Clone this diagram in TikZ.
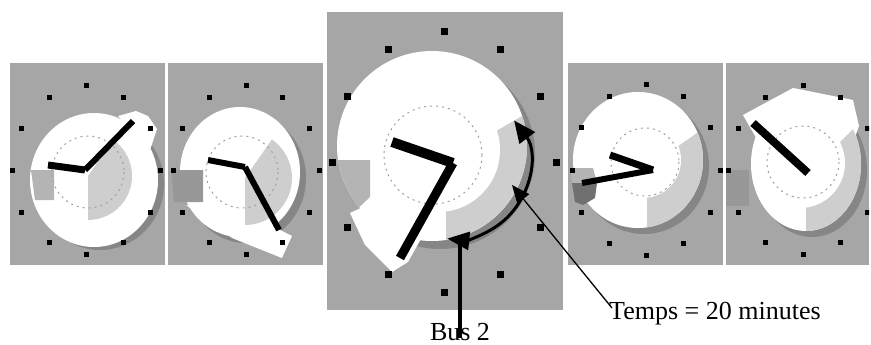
\documentclass[tikz,border=0pt]{standalone}
\usepackage{fontspec}
\setmainfont{Liberation Serif}
\usetikzlibrary{arrows.meta,calc}
\definecolor{panelgray}{RGB}{166,166,166}
\definecolor{shadowgray}{RGB}{134,134,134}
\definecolor{lightsec}{RGB}{206,206,206}
\definecolor{leftsec}{RGB}{180,180,180}
\definecolor{leftsecdark}{RGB}{152,152,152}
\definecolor{darksec}{RGB}{112,112,112}
\definecolor{rimgray}{RGB}{160,160,160}
\newcommand\clkdots[5]{%
  \foreach \a in {0,30,...,330}{%
    \fill[black] ({#1+#3*cos(\a)-#5},{#2+#4*sin(\a)-#5}) rectangle ({#1+#3*cos(\a)+#5},{#2+#4*sin(\a)+#5});}}
\begin{document}
\begin{tikzpicture}[x=1pt,y=-1pt,
  panel/.style={fill=panelgray},
  shadow/.style={fill=shadowgray},
  face/.style={fill=white},
  lsec/.style={fill=lightsec},
  inner/.style={draw=rimgray,line width=1pt,dash pattern=on 2pt off 4pt},
  hand/.style={draw=black,line width=#1},
  label/.style={font=\fontsize{26}{30}\selectfont,inner sep=0pt},
]
\useasboundingbox (0,0) rectangle (871,345);
\fill[white] (0,0) rectangle (871,345);

% ---------- clock 1 ----------
\fill[panel] (10,63) rectangle (165,265);
\fill[shadow] (100,184) ellipse [x radius=64, y radius=66];
\fill[face] (94,180) ellipse [x radius=64, y radius=67];
\fill[face] (118,116) -- (136,111) -- (148,116) -- (157,129) -- (150,150) -- cycle;
\fill[lsec] (88,176) -- ++(-55:44) arc [start angle=-55, end angle=90, radius=44] -- cycle;
\fill[leftsec] (31,170) -- (54,170) -- (54,200) -- (35,200) -- cycle;
\draw[inner] (88,172) circle [radius=36];
\clkdots{86}{170}{74}{84}{2.5}
\draw[hand=7pt] (85,170) -- (48,165);
\draw[hand=6pt] (85,170) -- (133,121);

% ---------- clock 2 ----------
\fill[panel] (168,63) rectangle (323,265);
\fill[shadow] (246,178) ellipse [x radius=60, y radius=65];
\fill[face] (240,172) ellipse [x radius=60, y radius=65];
\fill[face] (186,205) -- (232,238) -- (282,258) -- (292,236) -- (250,215) -- cycle;
\fill[lsec] (245,178) -- ++(-55:47) arc [start angle=-55, end angle=90, radius=47] -- cycle;
\fill[leftsecdark] (171,170) -- (203,170) -- (203,202) -- (174,202) -- cycle;
\draw[inner] (242,172) circle [radius=36];
\clkdots{246}{170}{73}{84}{2.5}
\draw[hand=6pt] (208,160) -- (245,167);
\draw[hand=6pt] (245,167) -- (279,230);

% ---------- clock 3 (large) ----------
\fill[panel] (327,12) rectangle (563,310);
\fill[shadow] (440,154) circle [radius=95];
\fill[face] (432,146) circle [radius=95];
\begin{scope}
  \clip (432,146) circle [radius=95];
  \fill[lsec] (446,160) -- ++(-30:130) arc [start angle=-30, end angle=90, radius=130] -- cycle;
  \fill[face] (438,150) circle [radius=62];
  \fill[leftsec] (330,160) -- (370,160) -- (370,197) -- (353,213) -- (330,213) -- cycle;
\end{scope}
\fill[face] (350,213) -- (378,200) -- (422,237) -- (408,262) -- (392,272) -- (365,245) -- cycle;
\draw[inner] (433,155) circle [radius=49];
\clkdots{444}{162}{112}{130}{3.5}
\draw[hand=10pt] (392,142) -- (453,163);
\draw[hand=9pt] (453,163) -- (400,258);

% ---------- clock 4 ----------
\fill[panel] (568,63) rectangle (723,265);
\fill[shadow] (644,166) ellipse [x radius=65, y radius=68];
\fill[face] (638,160) ellipse [x radius=65, y radius=68];
\begin{scope}
  \clip (638,160) ellipse [x radius=65, y radius=68];
  \fill[lsec] (647,168) -- ++(-35:100) arc [start angle=-35, end angle=90, radius=100] -- cycle;
  \fill[face] (643,160) circle [radius=38];
\end{scope}
\fill[leftsec] (570,168) -- (593,168) -- (597,183) -- (572,183) -- cycle;
\fill[darksec] (572,183) -- (597,183) -- (595,198) -- (583,205) -- (575,202) -- cycle;
\draw[inner] (645,162) circle [radius=34];
\clkdots{646}{170}{74}{85}{2.5}
\draw[hand=7pt] (610,155) -- (653,170);
\draw[hand=6pt] (653,170) -- (582,183);

% ---------- clock 5 ----------
\fill[panel] (726,63) rectangle (869,265);
\begin{scope}
  \clip (726,63) rectangle (869,265);
  \fill[shadow] (812,170) ellipse [x radius=55, y radius=67];
  \fill[face] (806,164) ellipse [x radius=55, y radius=67];
  \fill[face] (743,115) -- (793,88) -- (853,100) -- (859,126) -- (854,140) -- (800,150) -- (759,143) -- cycle;
  \begin{scope}
    \clip (806,164) ellipse [x radius=55, y radius=67];
    \fill[lsec] (806,176) -- ++(-45:100) arc [start angle=-45, end angle=90, radius=100] -- cycle;
    \fill[face] (800,163) circle [radius=45];
  \end{scope}
  \fill[leftsecdark] (726,170) -- (749,170) -- (749,206) -- (726,206) -- cycle;
  \draw[inner] (803,162) circle [radius=36];
  \clkdots{803}{170}{75}{84}{2.5}
\end{scope}
\draw[hand=8pt] (753,123) -- (808,173);

% ---------- annotations ----------
\coordinate (arcS) at ($(455,165)+(-37:74)$);
\coordinate (bustip) at (460,240);
\coordinate (tempstip) at (512,185);
\coordinate (tempsfoot) at (612,308);
\coordinate (busfoot) at (460,338);
\node[label, anchor=base] (bus) at (460,340) {Bus 2};
\node[label, anchor=base west] (temps) at (609,319) {Temps = 20 minutes};
\draw[line width=3pt, {Triangle[length=22pt,width=19pt]}-{Triangle[length=22pt,width=18pt]}]
  (arcS) arc [start angle=-37, end angle=96, radius=74];
\draw[line width=3.5pt] (busfoot) -- (bustip);
\draw[line width=1.3pt, -{Triangle[length=18pt,width=15pt]}] (tempsfoot) -- (tempstip);
\end{tikzpicture}
\end{document}
